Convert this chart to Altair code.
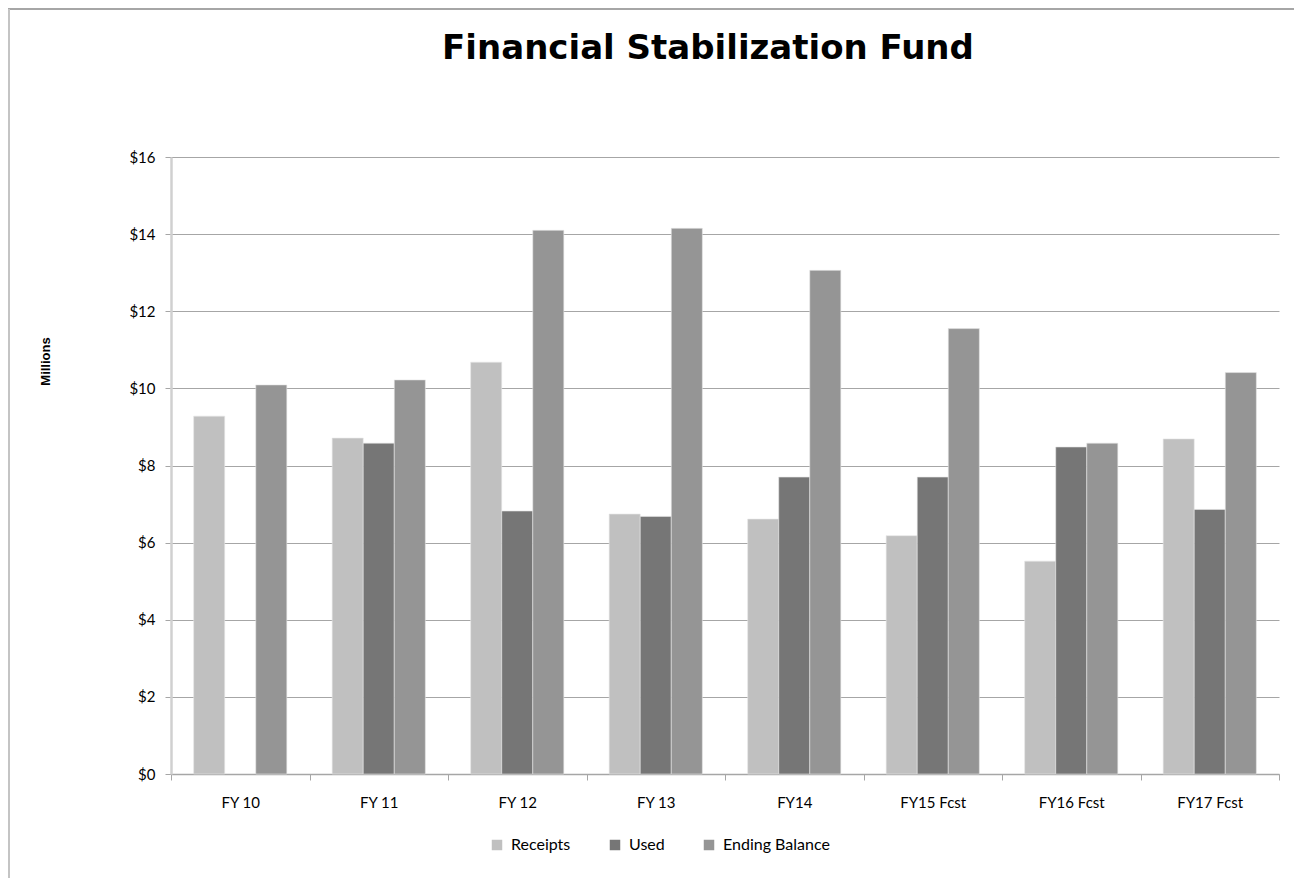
import altair as alt
import pandas as pd

categories = ["FY 10", "FY 11", "FY 12", "FY 13", "FY14", "FY15 Fcst", "FY16 Fcst", "FY17 Fcst"]
series = ["Receipts", "Used", "Ending Balance"]
receipts = [9.28, 8.71, 10.68, 6.74, 6.61, 6.18, 5.52, 8.69]
used = [None, 8.58, 6.82, 6.68, 7.70, 7.70, 8.48, 6.86]
balance = [10.09, 10.22, 14.10, 14.15, 13.06, 11.55, 8.58, 10.41]
colors = ["#c0c0c0", "#767676", "#959595"]
y_ticks = [0, 2, 4, 6, 8, 10, 12, 14, 16]

rows = []
for i, c in enumerate(categories):
    for s, vals in zip(series, [receipts, used, balance]):
        if vals[i] is not None:
            rows.append({"Year": c, "Series": s, "Value": vals[i]})
df = pd.DataFrame(rows)

LABEL_FONT = "Lato"

bars = alt.Chart(df).mark_bar(stroke="#e6e6e6", strokeWidth=0.6).encode(
    x=alt.X(
        "Year:N", sort=categories,
        scale=alt.Scale(paddingInner=0, paddingOuter=0),
        axis=alt.Axis(
            title=None, labelAngle=0, tickBand="extent", grid=False,
            labelFont=LABEL_FONT, labelFontSize=15, labelColor="#000000",
            labelPadding=15, tickSize=6, tickColor="#a6a6a6",
            domainColor="#a6a6a6", domainWidth=1.5,
        ),
    ),
    xOffset=alt.XOffset(
        "Series:N", sort=series,
        scale=alt.Scale(domain=series, paddingInner=0, paddingOuter=0.73),
    ),
    y=alt.Y(
        "Value:Q",
        scale=alt.Scale(domain=[0, 16], nice=False),
        axis=alt.Axis(
            values=y_ticks, format="$.0f", title="Millions",
            titleFont="Liberation Sans", titleFontSize=13, titleFontWeight="bold",
            titleColor="#000000", titleX=-126, titleY=204, titleAngle=270,
            titleAlign="center", titleBaseline="middle",
            labelFont=LABEL_FONT, labelFontSize=15, labelColor="#000000",
            labelPadding=10, tickSize=6, tickColor="#a6a6a6",
            grid=True, gridColor="#a6a6a6", gridWidth=1,
            domainColor="#d0d0d0", domainWidth=2.5,
        ),
    ),
    color=alt.Color(
        "Series:N",
        scale=alt.Scale(domain=series, range=colors),
        legend=alt.Legend(
            title=None, orient="none", direction="horizontal",
            legendX=318, legendY=680,
            symbolType="square", symbolSize=110, symbolStrokeWidth=0,
            labelFont=LABEL_FONT, labelFontSize=16, labelColor="#000000",
            labelOffset=6, columnPadding=36,
        ),
    ),
)

frame_df = pd.DataFrame({"k": [0]})
top_line = alt.Chart(frame_df).mark_rule(color="#a6a6a6", strokeWidth=2).encode(
    x=alt.value(-163), x2=alt.value(1123), y=alt.value(-148)
)
left_line = alt.Chart(frame_df).mark_rule(color="#c4c4c4", strokeWidth=2).encode(
    x=alt.value(-162), y=alt.value(-148), y2=alt.value(740)
)

chart = alt.layer(bars, top_line, left_line).properties(
    width=1108, height=617,
    padding={"left": 163, "top": 149, "right": 15, "bottom": 104},
    autosize=alt.AutoSizeParams(type="none"),
    title=alt.TitleParams(
        "Financial Stabilization Fund", font="DejaVu Sans", fontSize=34,
        fontWeight="bold", color="#000000", offset=0, dy=58, dx=-17, anchor="middle",
    ),
).configure_view(stroke=None)

chart.save("out.html", embed_options={"renderer": "svg", "actions": False})
